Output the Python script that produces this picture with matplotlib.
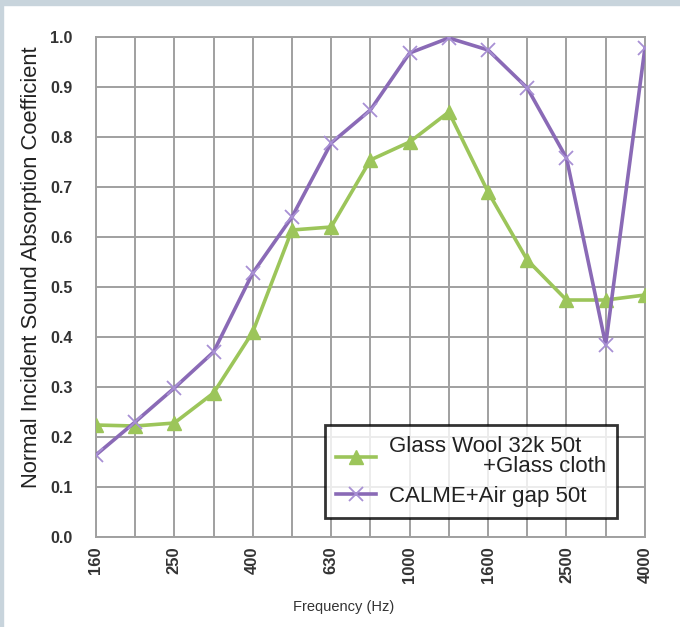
import numpy as np
import matplotlib.pyplot as plt

freqs = ["160", "200", "250", "315", "400", "500", "630", "800", "1000",
         "1250", "1600", "2000", "2500", "3150", "4000"]
glass_wool = [0.224, 0.222, 0.228, 0.288, 0.41, 0.614, 0.62, 0.754, 0.79,
              0.85, 0.69, 0.554, 0.474, 0.474, 0.484]
calme = [0.164, 0.23, 0.298, 0.37, 0.528, 0.64, 0.788, 0.854, 0.968,
         0.998, 0.974, 0.898, 0.758, 0.385, 0.978]
shown_ticks = ["160", "250", "400", "630", "1000", "1600", "2500", "4000"]

green = "#9cc55a"
purple = "#8a6ab6"

plt.rcParams['font.family'] = ['Liberation Sans', 'DejaVu Sans']

fig = plt.figure(figsize=(6.8, 6.27), dpi=100)
fig.patch.set_facecolor("white")
# grey-blue frame strips (top and left) like the screenshot
fig.patches.append(plt.Rectangle((0, 0.992), 1, 0.008, transform=fig.transFigure,
                                 color="#c8d4dc", zorder=0))
fig.patches.append(plt.Rectangle((0, 0), 0.0045, 1, transform=fig.transFigure,
                                 color="#c8d4dc", zorder=0))

ax = fig.add_axes([0.141, 0.1435, 0.8074, 0.7975])
x = np.arange(len(freqs))

ax.plot(x, glass_wool, color=green, lw=2.6, marker="^", ms=10,
        label="Glass Wool 32k 50t    \n+Glass cloth", zorder=3)
ax.plot(x, calme, color=purple, lw=2.6, marker="x", ms=10, mew=1.3,
        mec="#a890d4", label="CALME+Air gap 50t", zorder=3)

ax.set_xlim(0, len(freqs) - 1)
ax.set_ylim(0, 1.0)
ax.set_xticks(x)
ax.set_xticklabels([f if f in shown_ticks else "" for f in freqs],
                   rotation=90, fontsize=12, fontweight="bold", color="#333333")
ax.set_yticks(np.arange(0, 1.01, 0.1))
ax.set_yticklabels([f"{v:.1f}" for v in np.arange(0, 1.01, 0.1)],
                   fontsize=11.5, fontweight="bold", color="#333333")
ax.tick_params(axis="x", length=0, pad=7)
ax.tick_params(axis="y", length=0, pad=17)
ax.grid(True, color="#a0a0a0", lw=1.4)
ax.set_axisbelow(True)
for s in ax.spines.values():
    s.set_color("#a0a0a0")
    s.set_linewidth(1.4)

ax.set_ylabel("Normal Incident Sound Absorption Coefficient", fontsize=15.8,
              color="#222222")
ax.yaxis.set_label_coords(-0.098, 0.54)
ax.set_xlabel("Frequency (Hz)", fontsize=10.5, color="#333333")
ax.xaxis.set_label_coords(0.452, -0.125)

leg = ax.legend(loc="lower right", bbox_to_anchor=(0.95, 0.038), fontsize=16,
                frameon=True, fancybox=False, edgecolor="black",
                handlelength=1.8, handletextpad=0.6, borderpad=0.5,
                labelspacing=0.4, borderaxespad=0)
leg.get_frame().set_linewidth(2)
for t in leg.get_texts():
    t.set_multialignment("right")
    t.set_linespacing(0.95)
    t.set_color("#222222")

fig.savefig("out.png", dpi=100)
